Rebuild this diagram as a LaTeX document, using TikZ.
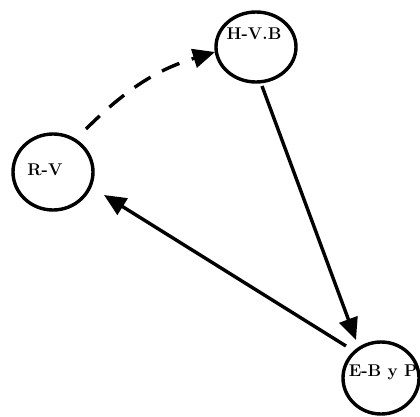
\documentclass[tikz,border=0pt]{standalone}
\usetikzlibrary{arrows.meta}
\begin{document}
\begin{tikzpicture}[x=1pt,y=-1pt,
  ring/.style={line width=3.4pt},
  lbl/.style={font=\fontsize{17}{20}\selectfont\bfseries},
  link/.style={line width=3.4pt,-{Triangle[length=22pt,width=19pt]}}]
\useasboundingbox (0,0) rectangle (420,417);
% the three states
\draw[ring] (256,47) ellipse [x radius=40, y radius=35];
\draw[ring] (53,172) ellipse [x radius=40, y radius=38];
\draw[ring] (381,378) ellipse [x radius=38, y radius=36];
\node[lbl] (hvb) at (254,34) {H-V.B};
\node[lbl] (rv) at (45,170) {R-V};
\node[lbl] (ebp) at (383,372) {E-B y P};
\coordinate (hvbL) at (215,52);
\coordinate (hvbB) at (262,86);
\coordinate (rvT) at (86,129);
\coordinate (rvR) at (104,195);
\coordinate (ebpT) at (356,340);
\coordinate (ebpL) at (346,346);
% transitions
\draw[link,dash pattern=on 19pt off 13pt] (rvT) to[bend left=14] (hvbL);
\draw[link] (hvbB) -- (ebpT);
\draw[link] (ebpL) -- (rvR);
\end{tikzpicture}
\end{document}
